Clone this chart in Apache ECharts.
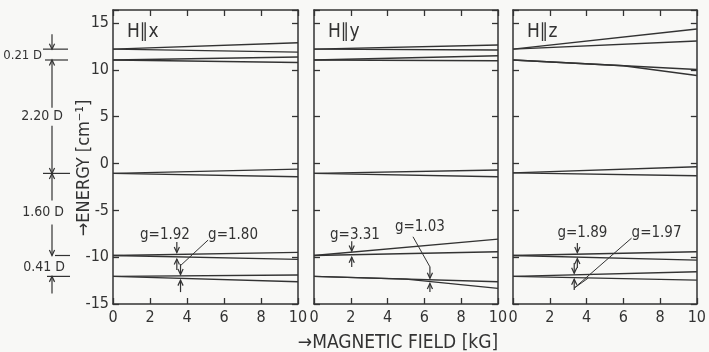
<!DOCTYPE html>
<html><head><meta charset="utf-8">
<script src="https://cdn.jsdelivr.net/npm/echarts@6/dist/echarts.min.js"></script>
<style>html,body{margin:0;padding:0;background:#f8f8f6;} #c{width:709px;height:352px;}</style>
</head><body><div id="c"></div>
<script>
// ---- data ----
const fieldTicks = [0, 2, 4, 6, 8, 10];
const energyTicks = [-15, -10, -5, 0, 5, 10, 15];
const panelTitles = ['H\u2225x', 'H\u2225y', 'H\u2225z'];
const zeroField = [12.22, 11.06, -1.05, -9.82, -12.05];
const splitLabels = ['0.21 D', '2.20 D', '1.60 D', '0.41 D'];
// each branch: [field kG, energy cm^-1]
const hxBranches = [
  [[0, 12.22], [10, 12.9]], [[0, 12.22], [10, 11.9]],
  [[0, 11.06], [10, 11.38]], [[0, 11.06], [10, 10.8]],
  [[0, -1.05], [10, -0.59]], [[0, -1.05], [10, -1.41]],
  [[0, -9.82], [10, -9.49]], [[0, -9.82], [10, -10.23]],
  [[0, -12.05], [10, -11.91]], [[0, -12.05], [10, -12.63]]
];
const hyBranches = [
  [[0, 12.22], [10, 12.66]], [[0, 12.22], [10, 12.13]],
  [[0, 11.06], [10, 11.52]], [[0, 11.06], [10, 10.98]],
  [[0, -1.05], [10, -0.69]], [[0, -1.05], [10, -1.41]],
  [[0, -9.82], [10, -8.07]], [[0, -9.82], [10, -9.42]],
  [[0, -12.05], [10, -12.63]], [[0, -12.05], [5, -12.34], [10, -13.33]]
];
const hzBranches = [
  [[0, 12.22], [10, 14.37]], [[0, 12.22], [10, 13.09]],
  [[0, 11.06], [10, 10.04]], [[0, 11.06], [6, 10.45], [10, 9.4]],
  [[0, -1.0], [10, -0.34]], [[0, -1.0], [10, -1.3]],
  [[0, -9.82], [10, -9.42]], [[0, -9.82], [10, -10.31]],
  [[0, -12.05], [10, -11.56]], [[0, -12.05], [10, -12.45]]
];
// g-factor annotations: label text and its anchor (kG, cm^-1)
const gLabels = [
  [0, 'g=1.92', 1.46, -7.64], [0, 'g=1.80', 5.14, -7.64],
  [1, 'g=3.31', 0.87, -7.64], [1, 'g=1.03', 4.4, -6.75],
  [2, 'g=1.89', 2.42, -7.43], [2, 'g=1.97', 6.45, -7.43]
];
const gLeaders = [
  [0, [[5.14, -8.17], [3.68, -10.84]]],
  [1, [[5.38, -7.82], [6.3, -11.03]]],
  [2, [[6.45, -7.96], [3.33, -13.3], [4.09, -12.23]]]
];
// arrows: panel, field, from energy, to energy (tip)
const gArrows = [
  [0, 3.45, -8.39, -9.5], [0, 3.45, -11.38, -10.2], [0, 3.65, -10.74, -11.85], [0, 3.65, -13.73, -12.45],
  [1, 2.05, -8.3, -9.35], [1, 2.05, -11.06, -10.0], [1, 6.3, -11.03, -12.25], [1, 6.3, -13.73, -12.8],
  [2, 3.5, -8.49, -9.5], [2, 3.5, -11.16, -10.15], [2, 3.33, -10.63, -11.72], [2, 3.33, -13.5, -12.35]
];

// ---- chart ----
const ink = '#333';
const lineInk = '#333';
const font = "'DejaVu Sans Condensed','Liberation Sans Narrow','DejaVu Sans',sans-serif";
const gridDefs = [{left: 113, width: 185}, {left: 314, width: 184}, {left: 513, width: 186}];
const grid = gridDefs.map(g => ({left: g.left, width: g.width, top: 10, height: 294, show: false}));
const axisLine = {show: true, onZero: false, lineStyle: {color: ink, width: 1.5}};
const axisTick = {show: true, inside: true, length: 6, lineStyle: {color: ink, width: 1.3}};
const xAxis = [], yAxis = [], series = [];
const panels = [hxBranches, hyBranches, hzBranches];
for (let i = 0; i < 3; i++) {
  const xb = {gridIndex: i, type: 'value', min: fieldTicks[0], max: fieldTicks[fieldTicks.length - 1], interval: 2,
    axisLine, axisTick, splitLine: {show: false}};
  xAxis.push(Object.assign({}, xb, {position: 'bottom',
    axisLabel: {color: ink, fontSize: 16, fontFamily: font, margin: 6}}));
  xAxis.push(Object.assign({}, xb, {position: 'top', axisLabel: {show: false}}));
  const yb = {gridIndex: i, type: 'value', min: -15, max: 16.4, interval: 5,
    axisLine, axisTick, splitLine: {show: false}};
  yAxis.push(Object.assign({}, yb, {position: 'left',
    axisLabel: {show: i === 0, color: ink, fontSize: 16, fontFamily: font, margin: 4,
      formatter: v => energyTicks.includes(v) ? String(v) : ''}}));
  yAxis.push(Object.assign({}, yb, {position: 'right', axisLabel: {show: false}}));
  panels[i].forEach(b => series.push({type: 'line', xAxisIndex: 2 * i, yAxisIndex: 2 * i, data: b,
    symbol: 'none', silent: true, lineStyle: {color: lineInk, width: 1.4}}));
}
const chart = echarts.init(document.getElementById('c'));
chart.setOption({animation: false, backgroundColor: '#f8f8f6', grid, xAxis, yAxis, series});

// ---- annotations positioned via the axes ----
const px = (p, x, y) => chart.convertToPixel({xAxisIndex: 2 * p, yAxisIndex: 2 * p}, [x, y]);
const stroke = {stroke: ink, lineWidth: 1.2, fill: null};
const g = [];
function vArrow(x, y1, y2) {
  const d = y2 > y1 ? 1 : -1;
  g.push({type: 'polyline', shape: {points: [[x, y1], [x, y2]]}, style: stroke, silent: true});
  g.push({type: 'polyline', shape: {points: [[x - 2.6, y2 - d * 5.5], [x, y2], [x + 2.6, y2 - d * 5.5]]}, style: stroke, silent: true});
}
function text(t, x, y, size, align, extra) {
  g.push(Object.assign({type: 'text', x, y, silent: true,
    style: {text: t, fill: ink, font: size + 'px ' + font, align: align || 'left', verticalAlign: 'middle'}}, extra || {}));
}
// panel titles
panelTitles.forEach((t, i) => text(t, gridDefs[i].left + 14, 32, 19, 'left'));
// g labels
gLabels.forEach(([p, t, x, y]) => { const q = px(p, x, y); text(t, q[0], q[1], 15, 'left'); });
gLeaders.forEach(([p, pts]) => g.push({type: 'polyline', silent: true, style: {stroke: ink, lineWidth: 1, fill: null},
  shape: {points: pts.map(v => px(p, v[0], v[1]))}}));
gArrows.forEach(([p, x, a, b]) => { const q1 = px(p, x, a), q2 = px(p, x, b); vArrow(q1[0], q1[1], q2[1]); });
// left level-spacing scale
const L = zeroField.map(v => px(0, 0, v)[1]);
const hx = [[43, 68], [45, 68], [43, 70], [55, 70], [47, 70]];
hx.forEach((h, k) => g.push({type: 'polyline', silent: true, style: stroke, shape: {points: [[h[0], L[k]], [h[1], L[k]]]}}));
const ax = 52;
const m23 = (L[1] + L[2]) / 2, m34 = (L[2] + L[3]) / 2 - 2;
vArrow(ax, L[0] - 15, L[0]);
vArrow(ax, m23 - 9, L[1]);
vArrow(ax, m23 + 9, L[2]);
vArrow(ax, m34 - 12, L[2]);
vArrow(ax, m34 + 12, L[3]);
vArrow(ax, L[4] + 17, L[4]);
text(splitLabels[0], 42, (L[0] + L[1]) / 2 + 1, 13, 'right');
text(splitLabels[1], 42, m23, 14, 'center');
text(splitLabels[2], 43, m34, 14, 'center');
text(splitLabels[3], 44, (L[3] + L[4]) / 2 + 1, 14, 'center');
// axis titles
text('\u2192ENERGY [cm\u207B\u00B9]', 0, 0, 18, 'center', {x: 84, y: 168, rotation: Math.PI / 2});
text('\u2192MAGNETIC FIELD [kG]', 398, 343, 19, 'center');
chart.setOption({graphic: g});
</script></body></html>
